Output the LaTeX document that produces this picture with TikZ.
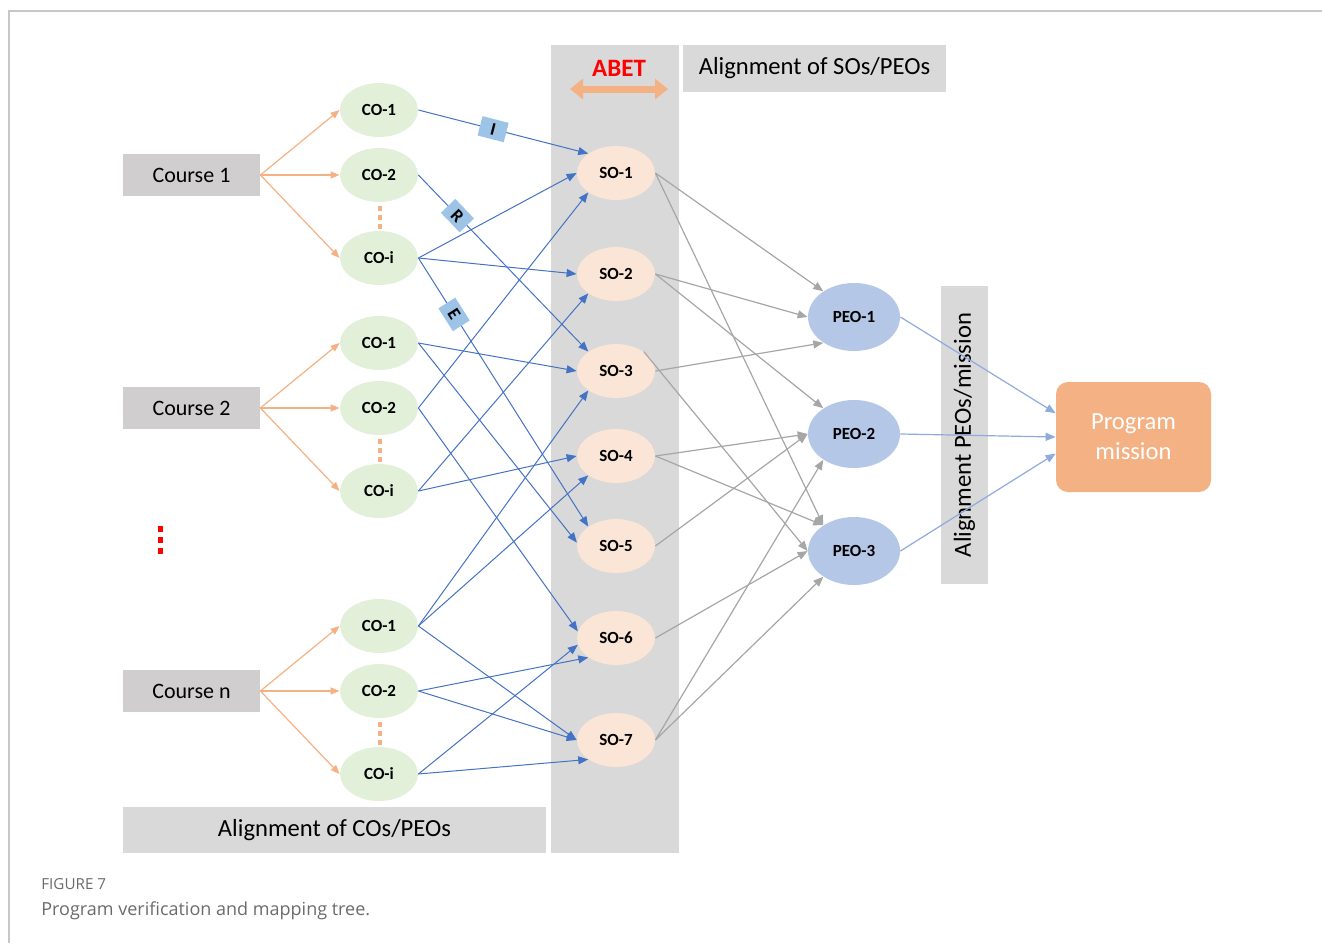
\documentclass[tikz,border=0pt]{standalone}
\usepackage{fontspec}
\setmainfont{Carlito}
\newfontfamily\capfont{Open Sans}
\usetikzlibrary{arrows.meta,shapes.geometric,positioning}

\definecolor{cofill}{HTML}{E2F0D9}
\definecolor{sofill}{HTML}{FBE5D6}
\definecolor{peofill}{HTML}{B4C7E7}
\definecolor{boxgray}{HTML}{D9D9D9}
\definecolor{coursegray}{HTML}{D0CECE}
\definecolor{lineorange}{HTML}{F4B183}
\definecolor{lineblue}{HTML}{4472C4}
\definecolor{lightblue}{HTML}{8FAADC}
\definecolor{linegray}{HTML}{A6A6A6}
\definecolor{tagblue}{HTML}{9DC3E6}
\definecolor{capgray}{HTML}{6B6B6B}

\tikzset{
  outcome/.style={ellipse,inner sep=0pt,minimum width=39pt,minimum height=27pt,
    font=\fontsize{8.5}{10}\selectfont\bfseries},
  cobox/.style={outcome,fill=cofill},
  sobox/.style={outcome,fill=sofill},
  peobox/.style={outcome,fill=peofill,minimum width=46pt,minimum height=34pt},
  graybox/.style={fill=boxgray,inner sep=0pt,font=\fontsize{12.3}{14}\selectfont},
  coursebox/.style={fill=coursegray,inner sep=0pt,minimum width=68.5pt,minimum height=21pt,
    font=\fontsize{11}{13}\selectfont},
  tag/.style={fill=tagblue,text=black,inner sep=0pt,minimum width=13.5pt,minimum height=10pt,
    font=\fontsize{9}{10}\selectfont\bfseries,sloped},
  orangearr/.style={lineorange,line width=0.6pt,-{Triangle[length=4.5pt,width=3.5pt]}},
  bluearr/.style={lineblue,line width=0.5pt,-{Triangle[length=5pt,width=4pt]}},
  grayarr/.style={linegray,line width=0.6pt,-{Triangle[length=5pt,width=4pt]}},
  lightarr/.style={lightblue,line width=0.6pt,-{Triangle[length=5pt,width=4pt]}},
}

\begin{document}
\begin{tikzpicture}[x=0.5pt,y=-0.5pt]
\useasboundingbox (0,0) rectangle (1322,943);
\draw[black!22,line width=0.6pt] (9,943) -- (9,11) -- (1322,11);

% grey bands
\node[graybox,minimum width=64pt,minimum height=404pt] (abet) at (615,449) {};
\node[graybox,minimum width=131.5pt,minimum height=23.5pt] (alignso) at (814.5,68.5) {Alignment of SOs/PEOs};
\node[graybox,minimum width=211.5pt,minimum height=23pt] (alignco) at (334.5,830) {Alignment of COs/PEOs};
\node[graybox,rotate=90,minimum width=149pt,minimum height=23.5pt] (alignmis) at (964.5,435) {Alignment PEOs/mission};

\node[text=red,font=\fontsize{12.5}{14}\selectfont\bfseries] (abetlab) at (619,68) {ABET};
\coordinate (abetl) at (570,89);
\coordinate (abetr) at (668,89);
\draw[lineorange,line width=3.5pt,{Triangle[length=6.5pt,width=10pt]}-{Triangle[length=6.5pt,width=10pt]}] (abetl) -- (abetr);

% courses
\foreach \g/\yc/\cname in {a/175/Course 1,b/408/Course 2,c/691/Course n} {
  \node[coursebox] (course\g) at (191.5,\yc) {\cname};
  \node[cobox] (co1\g) at (379,{\yc-65}) {CO-1};
  \node[cobox] (co2\g) at (379,\yc) {CO-2};
  \node[cobox] (coi\g) at (379,{\yc+83}) {CO-i};
  \foreach \d in {-9,0,9}
    \fill[lineorange] (377.5,{\yc+42+\d-2.5}) rectangle (381.5,{\yc+42+\d+2.5});
  \foreach \c in {co1,co2,coi}
    \draw[orangearr] (course\g.east) -- (\c\g.west);
}
\foreach \yy in {529,540,551}
  \fill[red] (157.5,{\yy-3}) rectangle (162.5,{\yy+3});

\foreach \n/\yy in {1/173,2/274,3/371,4/456,5/546,6/638,7/740}
  \node[sobox] (so\n) at (616,\yy) {SO-\n};
\foreach \n/\yy in {1/317,2/434,3/551}
  \node[peobox] (peo\n) at (854,\yy) {PEO-\n};
\node[fill=lineorange,rounded corners=6pt,minimum width=77.5pt,minimum height=55pt,text=white,
  align=center,font=\fontsize{12.3}{15}\selectfont] (mission) at (1133.5,437) {Program\\mission};

% CO -> SO
\draw[bluearr] (co1a.east) -- node[tag,pos=0.44] {I} (so1.145);
\draw[bluearr] (co2a.east) -- node[tag,pos=0.23] {R} (so3.145);
\draw[bluearr] (coia.east) -- node[tag,pos=0.21] {E} (so5.145);
\foreach \a/\b in {coia/so1.180,coia/so2.180,co1b/so3.180,co1b/so5.175,co2b/so1.215,co2b/so6.170,
  coib/so4.180,coib/so2.215,co1c/so3.215,co1c/so4.215,co1c/so7.180,co2c/so6.215,co2c/so7.180,
  coic/so6.190,coic/so7.215}
  \draw[bluearr] (\a.east) -- (\b);

% SO -> PEO
\foreach \a/\b in {so1.east/peo1.140,so1.east/peo3.140,so2.east/peo1.180,so2.east/peo2.140,
  so3.east/peo1.220,so3.35/peo3.180,so4.east/peo2.180,so4.east/peo3.140,so5.east/peo2.180,
  so6.east/peo3.180,so7.east/peo2.220,so7.east/peo3.220}
  \draw[grayarr] (\a) -- (\b);

% PEO -> mission
\foreach \n/\b in {1/163,2/180,3/192}
  \draw[lightarr] (peo\n.east) -- (mission.\b);

\node[anchor=west,inner sep=0pt,text=capgray,font=\capfont\fontsize{7.6}{9}\selectfont] (figno) at (41,884) {FIGURE 7};
\node[anchor=west,inner sep=0pt,text=capgray,font=\capfont\fontsize{9}{11}\selectfont] (caption) at (41,911) {Program verification and mapping tree.};
\end{tikzpicture}
\end{document}
